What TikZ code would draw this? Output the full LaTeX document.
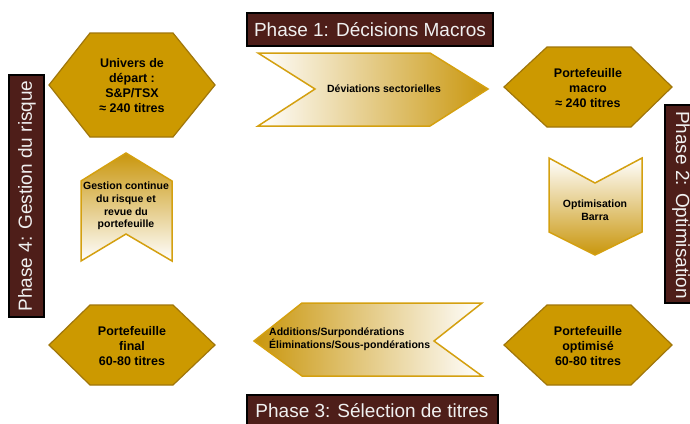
\documentclass[tikz,border=0pt]{standalone}
\usepackage{fontspec}
\setmainfont{Liberation Sans}
\definecolor{hexgold}{RGB}{204,153,0}
\definecolor{hexedge}{RGB}{160,118,10}
\definecolor{argold}{RGB}{201,150,12}
\definecolor{aredge}{RGB}{212,160,16}
\definecolor{phasebg}{RGB}{78,30,25}
\definecolor{phasetxt}{RGB}{240,240,240}
\tikzset{
  hexshape/.style={fill=hexgold,draw=hexedge,line width=1.2pt,line join=miter},
  hextext/.style={font=\fontsize{12.5}{15}\selectfont\bfseries,align=center,inner sep=0pt},
  arrowshape/.style={draw=aredge,line width=1.5pt},
  arrowtext/.style={font=\fontsize{10.5}{12.6}\selectfont\bfseries,inner sep=0pt},
  phasebox/.style={fill=phasebg,draw=black,line width=1.5pt},
  phasetext/.style={font=\fontsize{19}{22}\selectfont,text=phasetxt,inner sep=0pt},
}
\begin{document}
\begin{tikzpicture}[x=1pt,y=-1pt]
\useasboundingbox (0,0) rectangle (690,423);
\fill[white] (0,0) rectangle (690,423);

% Phase boxes
\draw[phasebox] (247,13) rectangle (493,46);
\node[phasetext] (p1) at (370,30) {Phase 1: Décisions Macros};
\draw[phasebox] (665,105) rectangle (700,303);
\node[phasetext,rotate=-90] (p2) at (681,205) {Phase 2: Optimisation};
\draw[phasebox] (247,395) rectangle (498,430);
\node[phasetext] (p3) at (372,411) {Phase 3: Sélection de titres};
\draw[phasebox] (9,75) rectangle (44,317);
\node[phasetext,rotate=90] (p4) at (27,196) {Phase 4: Gestion du risque};

% Hexagons
\draw[hexshape] (49,85) -- (90,33) -- (173,33) -- (215,85) -- (173,137) -- (90,137) -- cycle;
\node[hextext] (h1) at (132,86) {Univers de\\départ :\\S\&P/TSX\\≈ 240 titres};
\draw[hexshape] (504,87) -- (547,47) -- (631,47) -- (672,87) -- (631,127) -- (547,127) -- cycle;
\node[hextext] (h2) at (588,88) {Portefeuille\\macro\\≈ 240 titres};
\draw[hexshape] (504,345) -- (547,305) -- (631,305) -- (672,345) -- (631,385) -- (547,385) -- cycle;
\node[hextext] (h3) at (588,346) {Portefeuille\\optimisé\\60-80 titres};
\draw[hexshape] (49,345) -- (90,305) -- (173,305) -- (215,345) -- (173,385) -- (90,385) -- cycle;
\node[hextext] (h4) at (132,346) {Portefeuille\\final\\60-80 titres};

% Chevrons
\shadedraw[arrowshape,left color=white,right color=argold]
  (258,53) -- (430,53) -- (488,89) -- (430,126) -- (258,126) -- (315,89) -- cycle;
\node[arrowtext] (a1) at (384,89) {Déviations sectorielles};

\shadedraw[arrowshape,top color=white,bottom color=argold]
  (549,158) -- (595,183) -- (642,158) -- (642,232) -- (595,255) -- (549,232) -- cycle;
\node[arrowtext,align=center] (a2) at (595,210) {Optimisation\\Barra};

\shadedraw[arrowshape,left color=argold,right color=white]
  (254,341) -- (302,303) -- (482,303) -- (434,341) -- (482,376) -- (302,376) -- cycle;
\node[arrowtext,align=left,anchor=west] (a3) at (269,339) {Additions/Surpondérations\\Éliminations/Sous-pondérations};

\shadedraw[arrowshape,top color=argold,bottom color=white]
  (126,153) -- (172,181) -- (172,261) -- (126,234) -- (81,261) -- (81,181) -- cycle;
\node[arrowtext,align=center] (a4) at (126,206) {Gestion continue\\du risque et\\revue du\\portefeuille};
\end{tikzpicture}
\end{document}
